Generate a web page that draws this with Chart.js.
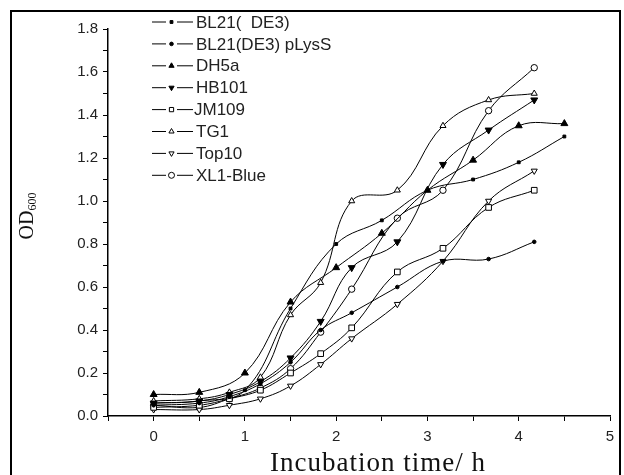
<!DOCTYPE html>
<html>
<head>
<meta charset="utf-8">
<script src="https://cdn.jsdelivr.net/npm/chart.js@4.4.0/dist/chart.umd.min.js"></script>
<style>
  html, body { margin: 0; padding: 0; background: #fff; }
  #wrap { width: 624px; height: 475px; position: relative; }
</style>
</head>
<body>
<div id="wrap"><canvas id="myChart" width="624" height="475"></canvas></div>
<script>
// sampling times (h)
const timesA = [0, 0.5, 1.0, 1.5, 2.0, 2.5, 3.0, 3.5, 4.0, 4.5];
const timesB = [0, 0.5, 0.83, 1.17, 1.5, 1.83, 2.17, 2.67, 3.17, 3.67, 4.17];

const strains = ['BL21(  DE3)', 'BL21(DE3) pLysS', 'DH5a', 'HB101', 'JM109', 'TG1', 'Top10', 'XL1-Blue'];

const bl21 = [0.06, 0.07, 0.12, 0.50, 0.80, 0.91, 1.05, 1.10, 1.18, 1.30];
const dh5a = [0.10, 0.11, 0.20, 0.53, 0.69, 0.85, 1.05, 1.19, 1.35, 1.36];
const plyss = [0.05, 0.06, 0.09, 0.15, 0.25, 0.40, 0.48, 0.60, 0.72, 0.73, 0.81];
const hb101 = [0.06, 0.07, 0.10, 0.16, 0.27, 0.44, 0.69, 0.81, 1.17, 1.33, 1.47];
const jm109 = [0.04, 0.05, 0.08, 0.12, 0.20, 0.29, 0.41, 0.67, 0.78, 0.97, 1.05];
const tg1 = [0.07, 0.08, 0.11, 0.18, 0.47, 0.62, 1.00, 1.05, 1.35, 1.47, 1.50];
const top10 = [0.03, 0.03, 0.05, 0.08, 0.14, 0.24, 0.36, 0.52, 0.72, 1.00, 1.14];
const xl1blue = [0.05, 0.04, 0.08, 0.13, 0.22, 0.39, 0.59, 0.92, 1.05, 1.42, 1.62];

function pts(xs, ys) {
  return ys.map((y, i) => ({ x: xs[i], y: y }));
}

function series(label, xs, ys, style, radius, filled, rot) {
  return {
    label: label,
    data: pts(xs, ys),
    showLine: true,
    borderColor: '#000',
    borderWidth: 1,
    tension: 0.4,
    pointStyle: style,
    pointRotation: rot || 0,
    pointRadius: radius,
    pointBorderWidth: 1,
    pointBorderColor: '#000',
    pointBackgroundColor: filled ? '#000' : '#fff'
  };
}

const datasets = [
  series(strains[0], timesA, bl21, 'rect', 2, true),
  series(strains[1], timesB, plyss, 'circle', 1.8, true),
  series(strains[2], timesA, dh5a, 'triangle', 4, true),
  series(strains[3], timesB, hb101, 'triangle', 4, true, 180),
  series(strains[4], timesB, jm109, 'rect', 4, false),
  series(strains[5], timesB, tg1, 'triangle', 3.5, false),
  series(strains[6], timesB, top10, 'triangle', 3.5, false, 180),
  series(strains[7], timesB, xl1blue, 'circle', 3.2, false)
];

// outer frame, axis titles, legend in the upper left
const extras = {
  id: 'extras',
  afterDraw(chart) {
    const ctx = chart.ctx;
    ctx.save();
    ctx.strokeStyle = '#000';
    ctx.lineWidth = 2;
    ctx.strokeRect(11, 11, 609, 480);

    // x title
    ctx.fillStyle = '#111';
    ctx.font = '27px "Liberation Serif"';
    ctx.letterSpacing = '1px';
    ctx.textAlign = 'center';
    ctx.textBaseline = 'alphabetic';
    ctx.fillText('Incubation time/ h', 378, 471);
    ctx.letterSpacing = '0px';
    ctx.textAlign = 'left';

    // OD600
    ctx.translate(33, 216);
    ctx.rotate(-Math.PI / 2);
    ctx.font = '20px "Liberation Serif"';
    const w1 = ctx.measureText('OD').width;
    ctx.font = '12px "Liberation Serif"';
    const w2 = ctx.measureText('600').width;
    const x0 = -(w1 + w2) / 2;
    ctx.font = '20px "Liberation Serif"';
    ctx.fillText('OD', x0, 0);
    ctx.font = '12px "Liberation Serif"';
    ctx.fillText('600', x0 + w1, 3);
    ctx.restore();

    // legend
    ctx.save();
    chart.data.datasets.forEach((ds, i) => {
      const y = 22 + i * 21.9;
      ctx.strokeStyle = '#000';
      ctx.lineWidth = 1;
      ctx.beginPath();
      ctx.moveTo(152, y);
      ctx.lineTo(166, y);
      ctx.moveTo(177, y);
      ctx.lineTo(193, y);
      ctx.stroke();
      ctx.fillStyle = ds.pointBackgroundColor;
      ctx.strokeStyle = '#000';
      Chart.helpers.drawPoint(ctx, {
        pointStyle: ds.pointStyle,
        rotation: ds.pointRotation,
        radius: Math.min(ds.pointRadius, 3),
        borderWidth: 1
      }, 171.5, y);
      ctx.fillStyle = '#222';
      ctx.font = '17px "Liberation Sans"';
      ctx.textBaseline = 'middle';
      ctx.fillText(ds.label, i === 4 ? 194 : 196, y + 1);
    });
    ctx.restore();
  }
};

new Chart(document.getElementById('myChart'), {
  type: 'scatter',
  data: { datasets: datasets },
  options: {
    responsive: false,
    animation: false,
    layout: { padding: { top: 29, right: 14, left: 0, bottom: 0 } },
    plugins: {
      legend: { display: false },
      tooltip: { enabled: false }
    },
    scales: {
      x: {
        type: 'linear',
        min: -0.5,
        max: 5,
        afterFit: s => { s.height = 59; },
        border: { color: '#000', width: 1.5 },
        grid: { drawOnChartArea: false, tickLength: 5, color: '#000', tickWidth: 1 },
        ticks: {
          stepSize: 0.5,
          color: '#222',
          font: { family: 'Liberation Sans', size: 15 },
          padding: 7,
          callback: v => Number.isInteger(v) ? String(v) : ''
        }
      },
      y: {
        min: 0,
        max: 1.8,
        afterFit: s => { s.width = 108; },
        border: { color: '#000', width: 1.5 },
        grid: { drawOnChartArea: false, tickLength: 5, color: '#000', tickWidth: 1 },
        ticks: {
          stepSize: 0.1,
          color: '#222',
          font: { family: 'Liberation Sans', size: 15 },
          padding: 5,
          callback: v => (Math.round(v * 10) % 2 === 0) ? v.toFixed(1) : ''
        }
      }
    }
  },
  plugins: [extras]
});
</script>
</body>
</html>
